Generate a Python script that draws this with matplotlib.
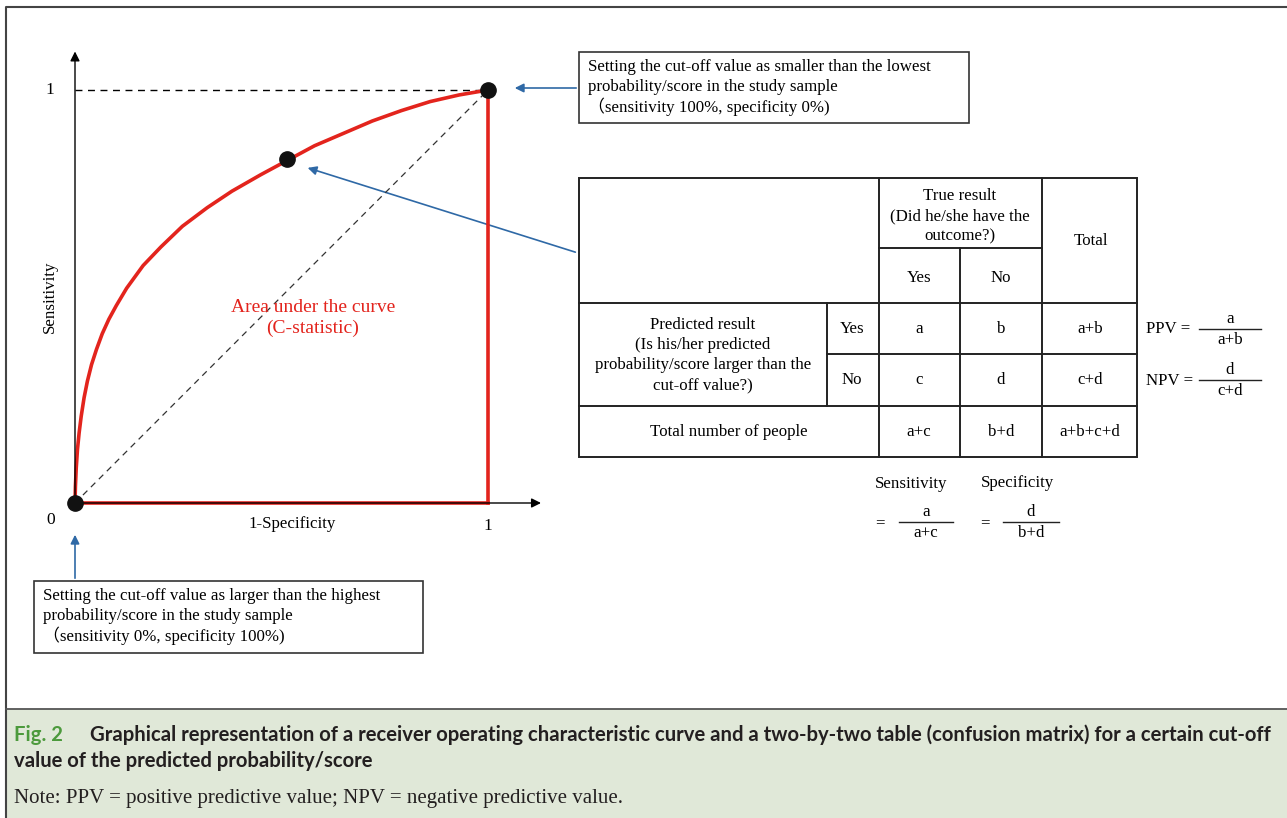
import numpy as np
import matplotlib.pyplot as plt
from matplotlib.patches import Rectangle

# ROC curve (1-specificity, sensitivity)
fpr = [0.0, 0.001, 0.003, 0.006, 0.010, 0.015, 0.022, 0.030, 0.040, 0.052, 0.066,
       0.082, 0.100, 0.125, 0.165, 0.208, 0.26, 0.32, 0.38, 0.45, 0.515, 0.58,
       0.65, 0.72, 0.79, 0.86, 0.93, 1.0]
tpr = [0.0, 0.04, 0.085, 0.13, 0.17, 0.21, 0.255, 0.295, 0.335, 0.372, 0.41,
       0.445, 0.478, 0.52, 0.575, 0.62, 0.67, 0.715, 0.755, 0.795, 0.83, 0.865,
       0.895, 0.925, 0.950, 0.972, 0.988, 1.0]
cut_x = [0.0, 0.513, 1.0]
cut_y = [0.0, 0.833, 1.0]

top_note = ['Setting the cut-off value as smaller than the lowest',
            'probability/score in the study sample',
            '\uff08sensitivity 100%, specificity 0%)']
bottom_note = ['Setting the cut-off value as larger than the highest',
               'probability/score in the study sample',
               '\uff08sensitivity 0%, specificity 100%)']
cells = [['a', 'b', 'a+b'], ['c', 'd', 'c+d'], ['a+c', 'b+d', 'a+b+c+d']]

RED = '#e3241d'
BLUE = '#2f69a6'
SERIF = ['Liberation Serif', 'Noto Sans CJK JP']
FS = 12.2

W, H = 1287, 818
fig = plt.figure(figsize=(W / 100, H / 100), dpi=100)

# overlay axes in pixel coordinates for boxes, table and caption
ov = fig.add_axes([0, 0, 1, 1])
ov.set_xlim(0, W)
ov.set_ylim(H, 0)
ov.axis('off')

# frame and caption panel
ov.plot([6, 6, W], [H, 7, 7], color='#444444', lw=1.5)
ov.add_patch(Rectangle((6, 709), W - 6, H - 709, facecolor='#e0e8d8', edgecolor='none'))
ov.plot([6, W], [709, 709], color='#555555', lw=1.3)

# ROC axes, placed so that (0,0) -> px (75,503) and (1,1) -> px (488,90)
u = 413.0
x0, x1, y0, y1 = -0.1, 1.2, -0.1, 1.15
left = 75 + x0 * u
bottom = H - (503 - y0 * u)
ax = fig.add_axes([left / W, bottom / H, (x1 - x0) * u / W, (y1 - y0) * u / H])
ax.set_xlim(x0, x1)
ax.set_ylim(y0, y1)
ax.axis('off')

arrow = dict(arrowstyle='-|>', color='black', lw=1.0, mutation_scale=14)
ax.annotate('', xy=(0, 1.10), xytext=(0, 0), arrowprops=arrow)
ax.annotate('', xy=(1.135, 0), xytext=(0, 0), arrowprops=arrow)
ax.plot([0, 1], [1, 1], color='black', lw=1.0, ls=(0, (5, 4)))
ax.plot([0, 1], [0, 1], color='#333333', lw=0.9, ls=(0, (5, 4)))
ax.plot([1, 1], [0, 1], color=RED, lw=2.6)
ax.plot([0, 1], [0, 0], color=RED, lw=2.6)
ax.plot(fpr, tpr, color=RED, lw=2.6, solid_joinstyle='round')
ax.plot(cut_x, cut_y, 'o', color='#111111', ms=11, zorder=5)

ax.text(-0.06, 1.0, '1', ha='center', va='center', fontsize=12.5, family=SERIF)
ax.text(-0.06, -0.04, '0', ha='center', va='center', fontsize=12.5, family=SERIF)
ax.text(1.0, -0.055, '1', ha='center', va='center', fontsize=12.5, family=SERIF)
ax.text(0.525, -0.052, '1-Specificity', ha='center', va='center', fontsize=FS, family=SERIF)
ax.text(-0.06, 0.5, 'Sensitivity', ha='center', va='center', rotation=90,
        fontsize=FS, family=SERIF)
ax.text(0.576, 0.448, 'Area under the curve\n(C-statistic)', ha='center', va='center',
        color=RED, fontsize=14, family=SERIF, linespacing=1.3)

# callout boxes
def note_box(x, y, w, h, lines):
    ov.add_patch(Rectangle((x, y), w, h, facecolor='white', edgecolor='#333333', lw=1.2))
    for i, s in enumerate(lines):
        ov.text(x + 9, y + 15 + 20 * i, s, ha='left', va='center', fontsize=FS, family=SERIF)

note_box(579, 52, 390, 71, top_note)
note_box(34, 581, 389, 72, bottom_note)

barrow = dict(arrowstyle='-|>', color=BLUE, lw=1.2, mutation_scale=13)
ov.annotate('', xy=(512, 88), xytext=(579, 88), arrowprops=barrow)
ov.annotate('', xy=(305, 167), xytext=(578, 253), arrowprops=barrow)
ov.annotate('', xy=(75, 532), xytext=(75, 581), arrowprops=barrow)

# two-by-two table
tk = dict(color='#222222', lw=1.4)
ov.add_patch(Rectangle((579, 178), 558, 279, facecolor='none', edgecolor='#222222', lw=1.4))
for yy in [303, 406]:
    ov.plot([579, 1137], [yy, yy], **tk)
ov.plot([879, 1042], [248, 248], **tk)
ov.plot([827, 1137], [354, 354], **tk)
ov.plot([879, 879], [178, 457], **tk)
ov.plot([1042, 1042], [178, 457], **tk)
ov.plot([960, 960], [248, 457], **tk)
ov.plot([827, 827], [303, 406], **tk)

tt = dict(ha='center', va='center', fontsize=FS, family=SERIF)
for i, s in enumerate(['True result', '(Did he/she have the', 'outcome?)']):
    ov.text(960, 196 + 20 * i, s, **tt)
ov.text(1091, 241, 'Total', **tt)
ov.text(919, 278, 'Yes', **tt)
ov.text(1001, 278, 'No', **tt)
for i, s in enumerate(['Predicted result', '(Is his/her predicted',
                       'probability/score larger than the', 'cut-off value?)']):
    ov.text(703, 325 + 20 * i, s, **tt)
ov.text(852, 329, 'Yes', **tt)
ov.text(852, 380, 'No', **tt)
ov.text(729, 432, 'Total number of people', **tt)
col_x = [919, 1001, 1090]
row_y = [329, 380, 432]
for r, row in enumerate(cells):
    for c, s in enumerate(row):
        ov.text(col_x[c], row_y[r], s, **tt)

# formulas
def fraction(xc, yc, num, den, half):
    ov.plot([xc - half, xc + half], [yc, yc], color='#222222', lw=1.0)
    ov.text(xc, yc - 10, num, **tt)
    ov.text(xc, yc + 11, den, **tt)

ov.text(1146, 329, 'PPV =', ha='left', va='center', fontsize=FS, family=SERIF)
fraction(1230, 329, 'a', 'a+b', 31)
ov.text(1146, 381, 'NPV =', ha='left', va='center', fontsize=FS, family=SERIF)
fraction(1230, 380, 'd', 'c+d', 31)
ov.text(911, 484, 'Sensitivity', **tt)
ov.text(1017, 483, 'Specificity', **tt)
ov.text(880, 523, '=', **tt)
fraction(926, 522, 'a', 'a+c', 27)
ov.text(985, 523, '=', **tt)
fraction(1031, 522, 'd', 'b+d', 28)

# caption
cap = dict(ha='left', va='center', fontsize=14.6, family='Lato', fontweight='bold')
ov.text(14, 735, 'Fig. 2', color='#4c9a3c', **cap)
ov.text(90, 735, 'Graphical representation of a receiver operating characteristic curve and a '
        'two-by-two table (confusion matrix) for a certain cut-off', color='#231f20', **cap)
ov.text(14, 761, 'value of the predicted probability/score', color='#231f20', **cap)
ov.text(14, 799, 'Note: PPV = positive predictive value; NPV = negative predictive value.',
        ha='left', va='center', fontsize=15, family=SERIF, color='#231f20')

fig.savefig('out.png', dpi=100)
